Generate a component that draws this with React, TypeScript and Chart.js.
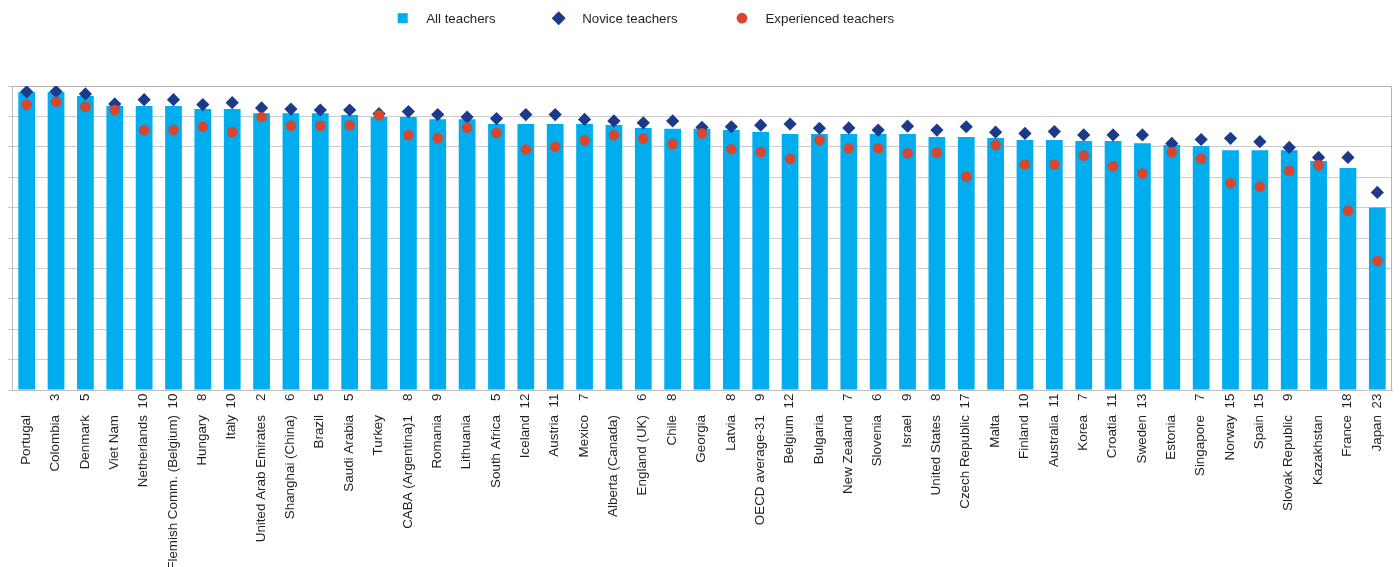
import React, { useEffect, useRef } from "react";
import { Chart, registerables } from "chart.js";

Chart.register(...registerables);

// ---- Data -------------------------------------------------------------
const categories = [
  "Portugal", "Colombia", "Denmark", "Viet Nam", "Netherlands", "Flemish Comm. (Belgium)",
  "Hungary", "Italy", "United Arab Emirates", "Shanghai (China)", "Brazil", "Saudi Arabia",
  "Turkey", "CABA (Argentina)1", "Romania", "Lithuania", "South Africa", "Iceland", "Austria",
  "Mexico", "Alberta (Canada)", "England (UK)", "Chile", "Georgia", "Latvia", "OECD average-31",
  "Belgium", "Bulgaria", "New Zealand", "Slovenia", "Israel", "United States", "Czech Republic",
  "Malta", "Finland", "Australia", "Korea", "Croatia", "Sweden", "Estonia", "Singapore",
  "Norway", "Spain", "Slovak Republic", "Kazakhstan", "France", "Japan",
];

// significant difference (novice - experienced) printed next to the category name
const diffLabels = [
  "", "3", "5", "", "10", "10", "8", "10", "2", "6", "5", "5",
  "", "8", "9", "", "5", "12", "11", "7", "", "6", "8", "", "8", "9",
  "12", "", "7", "6", "9", "8", "17", "", "10", "11", "7", "11", "13", "",
  "7", "15", "15", "9", "", "18", "23",
];

const allTeachers = [
  98.0, 98.0, 96.7, 93.4, 93.4, 93.4, 92.4, 92.4, 91.0, 91.0, 91.0, 90.5,
  89.8, 89.8, 89.1, 89.1, 87.5, 87.5, 87.5, 87.5, 87.2, 86.2, 85.9,
  85.9, 85.5, 84.9, 84.2, 84.2, 84.2, 84.2, 84.2, 83.2, 83.2, 82.9, 82.2,
  82.2, 81.9, 81.9, 81.2, 80.6, 80.3, 78.9, 78.9, 78.9, 75.3, 73.0, 60.0,
];

const noviceTeachers = [
  98.1, 98.2, 97.4, 94.1, 95.5, 95.5, 93.9, 94.5, 92.8, 92.4, 92.1, 92.1,
  90.9, 91.6, 90.6, 89.8, 89.3, 90.6, 90.6, 89.0, 88.5, 87.9, 88.5,
  86.4, 86.6, 87.1, 87.5, 86.1, 86.2, 85.5, 86.8, 85.5, 86.6, 84.8, 84.4,
  85.0, 83.9, 83.9, 83.9, 81.1, 82.4, 82.8, 81.7, 79.8, 76.5, 76.5, 65.0,
];

const experiencedTeachers = [
  93.8, 94.8, 93.2, 92.1, 85.5, 85.5, 86.6, 84.9, 89.8, 86.9, 86.9, 87.1,
  90.4, 83.8, 82.8, 86.3, 84.5, 79.1, 80.0, 82.1, 83.8, 82.7, 80.9,
  84.4, 79.2, 78.3, 76.0, 82.2, 79.5, 79.5, 77.9, 78.1, 70.2, 80.6, 74.2,
  74.2, 77.1, 73.6, 71.2, 78.2, 76.1, 68.0, 66.9, 72.1, 73.9, 59.0, 42.4,
];

const seriesNames = ["All teachers", "Novice teachers", "Experienced teachers"];

// ---- Styles -----------------------------------------------------------
const BAR_COLOR = "#00ADEF";
const NOVICE_COLOR = "#1B3A8A";
const EXPERIENCED_COLOR = "#D7462F";
const TEXT_COLOR = "#231f20";
const FONT = "'Liberation Sans', Arial, Helvetica, sans-serif";

export default function App() {
  const canvasRef = useRef<HTMLCanvasElement | null>(null);

  useEffect(() => {
    const canvas = canvasRef.current;
    if (!canvas) return;

    const framePlugin = {
      id: "frame",
      beforeDatasetsDraw(chart: any) {
        const { ctx, chartArea } = chart;
        ctx.save();
        ctx.strokeStyle = "#b4b4b4";
        ctx.lineWidth = 1;
        ctx.beginPath();
        ctx.moveTo(chartArea.left, Math.round(chartArea.top) + 0.5);
        ctx.lineTo(Math.round(chartArea.right) - 0.5, Math.round(chartArea.top) + 0.5);
        ctx.lineTo(Math.round(chartArea.right) - 0.5, chartArea.bottom);
        ctx.stroke();
        ctx.restore();
      },
    };

    const labelPlugin = {
      id: "categoryLabels",
      afterDraw(chart: any) {
        const { ctx, chartArea } = chart;
        const xs = chart.scales.x;
        ctx.save();
        ctx.font = `13.4px ${FONT}`;
        ctx.fillStyle = TEXT_COLOR;
        ctx.textBaseline = "middle";
        ctx.textAlign = "right";
        categories.forEach((name, i) => {
          const px = xs.getPixelForValue(i) - 0.5;
          ctx.save();
          ctx.translate(px, chartArea.bottom + 25);
          ctx.rotate(-Math.PI / 2);
          ctx.fillText(name, 0, 0);
          ctx.restore();
          if (diffLabels[i]) {
            ctx.save();
            ctx.translate(px, chartArea.bottom + 3.5);
            ctx.rotate(-Math.PI / 2);
            ctx.fillText(diffLabels[i], 0, 0);
            ctx.restore();
          }
        });
        ctx.restore();
      },
    };

    const legendPlugin = {
      id: "customLegend",
      afterDraw(chart: any) {
        const { ctx } = chart;
        const iconX = [402.7, 558.7, 742];
        const cy = 18.2;
        ctx.save();
        ctx.font = `13.3px ${FONT}`;
        ctx.fillStyle = TEXT_COLOR;
        ctx.textBaseline = "alphabetic";
        ctx.textAlign = "left";
        chart.data.datasets.forEach((ds: any, i: number) => {
          const x = iconX[i];
          ctx.save();
          if (i === 0) {
            ctx.fillStyle = ds.backgroundColor;
            ctx.fillRect(x - 5, cy - 5, 10, 10);
          } else if (i === 1) {
            ctx.fillStyle = ds.pointBackgroundColor;
            ctx.beginPath();
            ctx.moveTo(x, cy - 7);
            ctx.lineTo(x + 7, cy);
            ctx.lineTo(x, cy + 7);
            ctx.lineTo(x - 7, cy);
            ctx.closePath();
            ctx.fill();
          } else {
            ctx.fillStyle = ds.pointBackgroundColor;
            ctx.beginPath();
            ctx.arc(x, cy, 5.4, 0, Math.PI * 2);
            ctx.fill();
          }
          ctx.restore();
          ctx.fillText(ds.label, x + 23.5, 22.6);
        });
        ctx.restore();
      },
    };

    const chart = new Chart(canvas, {
      type: "bar",
      data: {
        labels: categories,
        datasets: [
          {
            type: "bar",
            label: seriesNames[0],
            data: allTeachers,
            backgroundColor: BAR_COLOR,
            borderWidth: 0,
            barPercentage: 0.57,
            categoryPercentage: 1,
            order: 3,
          } as any,
          {
            type: "line",
            label: seriesNames[1],
            data: noviceTeachers,
            showLine: false,
            pointStyle: "rectRot",
            pointRadius: 6.6,
            pointBackgroundColor: NOVICE_COLOR,
            pointBorderColor: NOVICE_COLOR,
            pointBorderWidth: 0,
            order: 2,
          } as any,
          {
            type: "line",
            label: seriesNames[2],
            data: experiencedTeachers,
            showLine: false,
            pointStyle: "circle",
            pointRadius: 5.3,
            pointBackgroundColor: EXPERIENCED_COLOR,
            pointBorderColor: EXPERIENCED_COLOR,
            pointBorderWidth: 0,
            order: 1,
          } as any,
        ],
      },
      options: {
        responsive: false,
        animation: false,
        layout: { padding: { left: 8, right: 8, top: 86, bottom: 177 } },
        plugins: {
          legend: { display: false },
          tooltip: { enabled: false },
        },
        scales: {
          x: {
            grid: { display: false, drawTicks: false, tickLength: 0 },
            ticks: { display: false },
            border: { display: true, color: "#bdbdbd", width: 1 },
          },
          y: {
            min: 0,
            max: 100,
            ticks: { display: false, stepSize: 10 },
            grid: {
              color: (c: any) => (c.tick && c.tick.value === 100 ? "rgba(0,0,0,0)" : "#cdcdcd"),
              tickColor: "#c4c4c4",
              lineWidth: 1,
              drawTicks: true,
              tickLength: 4,
            },
            border: { display: true, color: "#bdbdbd", width: 1 },
          },
        },
      },
      plugins: [framePlugin, labelPlugin, legendPlugin],
    });

    return () => chart.destroy();
  }, []);

  return (
    <div style={{ position: "fixed", left: 0, top: 0, width: 1400, height: 567, background: "#fff" }}>
      <canvas ref={canvasRef} width={1400} height={567} style={{ display: "block" }} />
    </div>
  );
}
